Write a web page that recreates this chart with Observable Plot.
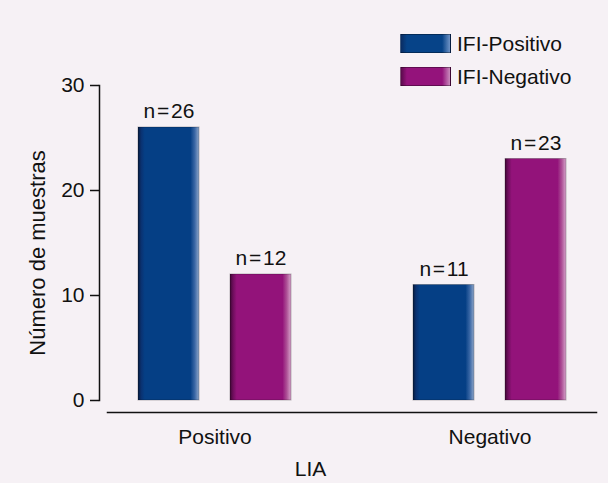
<!DOCTYPE html>
<html><head><meta charset="utf-8">
<script src="https://cdn.jsdelivr.net/npm/d3@7"></script>
<script src="https://cdn.jsdelivr.net/npm/@observablehq/plot@0.6"></script>
<style>
html,body{margin:0;padding:0;background:#f6f1f5;}
#wrap{position:relative;width:608px;height:483px;font-family:"Liberation Sans",Arial,sans-serif;}
#legend{position:absolute;left:400px;top:27px;font-size:21px;color:#111;}
.item{display:flex;align-items:center;height:33px;}
.sw{width:51px;height:19px;margin-right:6px;box-sizing:border-box;border:1px solid rgba(0,0,0,0.35);}
</style></head><body><div id="wrap"><div id="legend"></div></div>
<script>
// Data
const groups = ["Positivo", "Negativo"];          // LIA categories
const series = ["IFI-Positivo", "IFI-Negativo"];  // legend series
const ifiPositivo = [26, 11];
const ifiNegativo = [12, 23];
const yTicks = [0, 10, 20, 30];
const xTitle = "LIA";
const yTitle = "Número de muestras";

const data = groups.flatMap((g, i) => [
  {lia: g, ifi: series[0], n: ifiPositivo[i]},
  {lia: g, ifi: series[1], n: ifiNegativo[i]}
]);

const font = "Liberation Sans, Arial, Helvetica, sans-serif";

const plot = Plot.plot({
  width: 608, height: 483,
  marginTop: 85, marginBottom: 83, marginLeft: 107, marginRight: 11,
  style: {background: "transparent", fontFamily: font, fontSize: "21px", color: "#111"},
  fx: {domain: groups, paddingInner: 0.445, paddingOuter: 0.1125, label: null},
  x: {domain: series, paddingInner: 0.337, paddingOuter: 0, axis: null},
  y: {domain: [0, 30]},
  color: {domain: series, range: ["url(#gBlue)", "url(#gPurple)"]},
  marks: [
    Plot.frame({facet: "super", anchor: "bottom", dy: 12, insetLeft: -31, insetRight: -30, stroke: "#111", strokeWidth: 1.5}),
    Plot.frame({anchor: "left", facetAnchor: "left-empty", dx: -39, stroke: "#111", strokeWidth: 1.5}),
    Plot.axisY({ticks: yTicks, tickSize: 9, tickPadding: 6, dx: -39, label: null, fontSize: 21, stroke: "#111", strokeWidth: 1.5}),
    Plot.axisFx({anchor: "bottom", tickSize: 0, tickPadding: 29, label: null, fontSize: 21}),
    Plot.text([yTitle], {facet: "super", frameAnchor: "left", textAnchor: "middle", lineAnchor: "middle", rotate: -90, dx: -101, dy: 10, fontSize: 22, fill: "#111"}),
    Plot.text([xTitle], {facet: "super", frameAnchor: "bottom", textAnchor: "middle", lineAnchor: "middle", dx: -42, dy: 69, fontSize: 21, fill: "#111"}),
    Plot.barY(data, {fx: "lia", x: "ifi", y: "n", fill: "ifi", stroke: "#000", strokeOpacity: 0.25, strokeWidth: 1}),
    Plot.text(data, {fx: "lia", x: "ifi", y: "n", text: d => "n\u200A=\u200A" + d.n, dy: -16, fontSize: 21, fill: "#111"})
  ]
});

const svg = plot.tagName.toLowerCase() === "svg" ? plot : plot.querySelector("svg");
const defs = d3.select(svg).insert("defs", ":first-child");
function grad(id, stops) {
  const g = defs.append("linearGradient").attr("id", id).attr("x1", 0).attr("x2", 1).attr("y1", 0).attr("y2", 0);
  stops.forEach(([o, c]) => g.append("stop").attr("offset", o).attr("stop-color", c));
}
grad("gBlue", [[0, "#071c3e"], [0.05, "#0a3170"], [0.11, "#053f85"], [0.86, "#053f85"], [0.93, "#3a67a5"], [1, "#8fa7ca"]]);
grad("gPurple", [[0, "#3f0735"], [0.05, "#6e0e5c"], [0.11, "#93137a"], [0.86, "#93137a"], [0.93, "#ad5196"], [1, "#d7a3cb"]]);

document.getElementById("wrap").appendChild(plot);

const legendCss = [
  "linear-gradient(to right,#0a2c62,#064388 12%,#064388 84%,#6f93c6)",
  "linear-gradient(to right,#5a0a4b,#94137b 12%,#94137b 84%,#c98cbd)"
];
const legend = document.getElementById("legend");
series.forEach((s, i) => {
  const it = document.createElement("div"); it.className = "item";
  const sw = document.createElement("div"); sw.className = "sw"; sw.style.background = legendCss[i];
  const t = document.createElement("span"); t.textContent = s;
  it.appendChild(sw); it.appendChild(t); legend.appendChild(it);
});
legend.style.zIndex = 2;
</script></body></html>
